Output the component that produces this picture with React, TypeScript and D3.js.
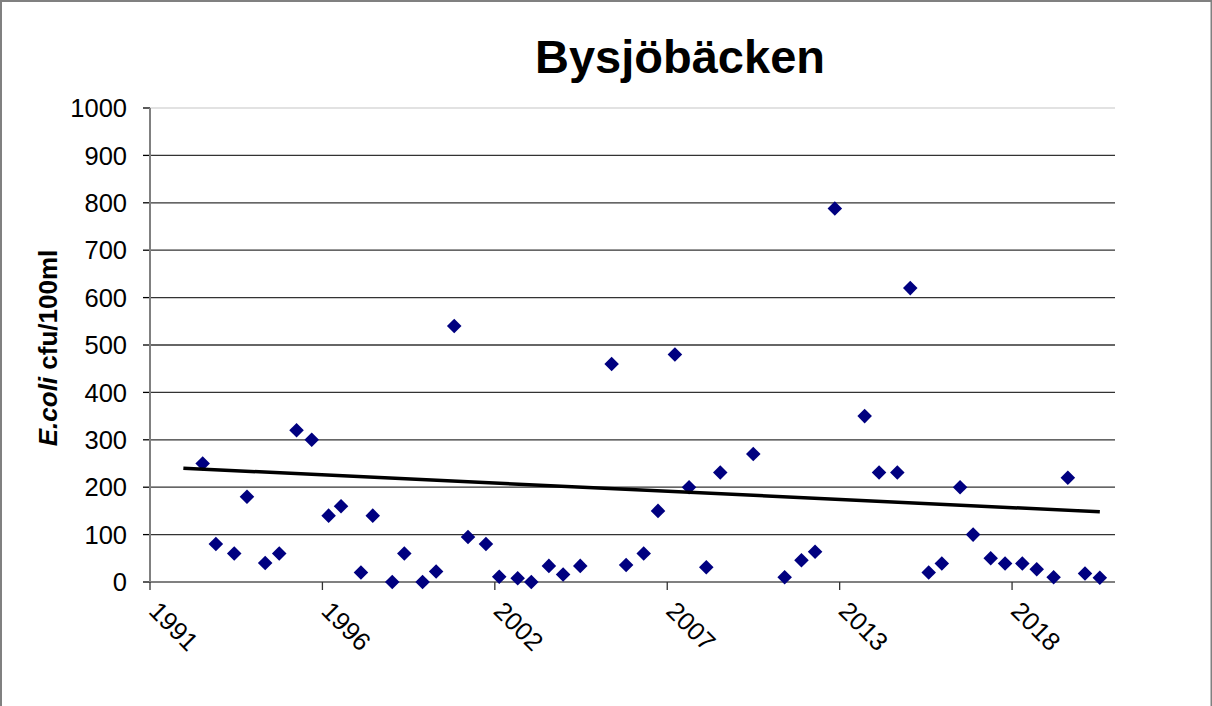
import React from "react";
import * as d3 from "d3";

const title = "Bysjöbäcken";
const sampleDates = [
  "1992-11-15","1993-04-17","1993-11-16","1994-04-13","1994-11-10","1995-04-22","1995-11-09","1996-05-03",
  "1996-11-15","1997-04-08","1997-11-25","1998-04-11","1998-11-23","1999-04-12","1999-11-10","2000-04-15",
  "2000-11-11","2001-04-20","2001-11-14","2002-04-17","2002-11-17","2003-04-24","2003-11-14","2004-04-27",
  "2004-11-12","2005-11-11","2006-04-28","2006-11-18","2007-05-03","2007-11-15","2008-04-27","2008-11-13",
  "2009-04-24","2010-05-12","2011-05-11","2011-11-22","2012-04-28","2012-12-13","2013-11-24","2014-05-10",
  "2014-12-08","2015-05-07","2015-12-07","2016-05-07","2016-12-05","2017-05-05","2017-11-25","2018-05-11",
  "2018-11-27","2019-05-13","2019-11-25","2020-05-08","2020-11-23","2021-05-14",
];
const ecoliValues = [
  250, 80, 60, 180, 40, 60, 320, 300,
  140, 160, 20, 140, 0, 60, 0, 22,
  540, 95, 80, 11, 8, 0, 34, 16,
  34, 460, 36, 60, 150, 480, 200, 31,
  231, 270, 10, 46, 64, 788, 350, 231,
  231, 620, 20, 39, 200, 100, 50, 39,
  39, 27, 10, 220, 18, 9,
];
const trendDates = ["1992-04-05", "2021-05-14"];
const trendValues = [240, 148];
const axisStart = "1991-03-15";
const axisEnd = "2021-11-06";
const tickStepDays = 2000;
const yTicks = [0, 100, 200, 300, 400, 500, 600, 700, 800, 900, 1000];

const W = 1212, H = 706;
const left = 150, right = 1115, top = 108, bottom = 582;
const font = "Arial, 'Liberation Sans', sans-serif";

export default function App() {
  const parse = d3.utcParse("%Y-%m-%d");
  const d0 = parse(axisStart)!;
  const d1 = parse(axisEnd)!;
  const x = d3.scaleUtc().domain([d0, d1]).range([left, right]);
  const y = d3.scaleLinear().domain([0, 1000]).range([bottom, top]);
  const xTicks: Date[] = [];
  for (let t = d0; t <= d1; t = d3.utcDay.offset(t, tickStepDays)) xTicks.push(t);
  const points = sampleDates.map((d, i) => ({ date: parse(d)!, v: ecoliValues[i] }));
  const trend = d3
    .line<{ date: Date; v: number }>()
    .x((d) => x(d.date))
    .y((d) => y(d.v))(trendDates.map((d, i) => ({ date: parse(d)!, v: trendValues[i] })));
  const diamond = d3.symbol().type(d3.symbolDiamond2).size(135)();

  return (
    <svg width={W} height={H} style={{ position: "absolute", left: 0, top: 0, background: "#fff" }}>
      <rect x={0} y={0} width={W} height={H} fill="#fff" />
      <rect x={1} y={1} width={W - 1.5} height={H + 20} fill="none" stroke="#808080" strokeWidth={2} />
      <text x={680} y={73} textAnchor="middle" fontFamily={font} fontWeight="bold" fontSize={47}>
        {title}
      </text>
      {yTicks.map((t) => (
        <g key={t}>
          {t > 0 && (
            <line x1={left} x2={right} y1={y(t)} y2={y(t)} stroke={t === 1000 ? "#d9d9d9" : "#333"} strokeWidth={1.3} />
          )}
          <line x1={left - 7} x2={left} y1={y(t)} y2={y(t)} stroke="#000" strokeWidth={1.3} />
          <text x={127} y={y(t)} dy="0.36em" textAnchor="end" fontFamily={font} fontSize={25.5}>
            {t}
          </text>
        </g>
      ))}
      <line x1={left} x2={left} y1={top} y2={bottom} stroke="#808080" strokeWidth={2} />
      <line x1={left} x2={right} y1={bottom} y2={bottom} stroke="#808080" strokeWidth={2} />
      {xTicks.map((t, i) => {
        const px = x(t);
        return (
          <g key={i}>
            <line x1={px} x2={px} y1={bottom} y2={bottom + 8} stroke="#333" strokeWidth={1.3} />
            <text
              transform={`translate(${px + 4},${bottom + 24}) rotate(45)`}
              dy="0.36em"
              fontFamily={font}
              fontSize={25.5}
            >
              {d3.utcFormat("%Y")(t)}
            </text>
          </g>
        );
      })}
      <text
        transform={`translate(57,348) rotate(-90)`}
        textAnchor="middle"
        fontFamily={font}
        fontWeight="bold"
        fontSize={26}
      >
        <tspan fontStyle="italic">E.coli</tspan> cfu/100ml
      </text>
      {points.map((p, i) => (
        <path key={i} d={diamond!} transform={`translate(${x(p.date)},${y(p.v)})`} fill="#000080" />
      ))}
      <path d={trend!} fill="none" stroke="#000" strokeWidth={3.5} />
    </svg>
  );
}
